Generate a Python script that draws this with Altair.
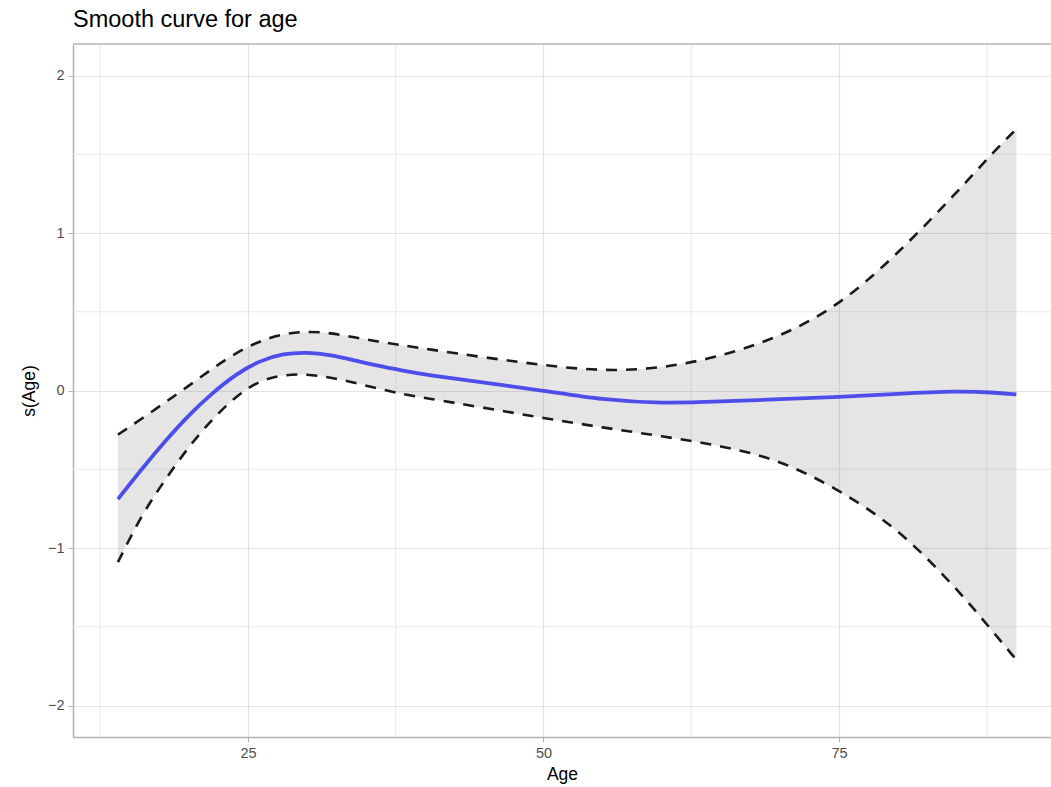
import altair as alt
import pandas as pd

# Values
age = [14, 16, 18, 20, 22, 24, 26, 28, 30, 32, 34, 36, 38, 40, 45, 50, 55, 60, 65, 70, 75, 80, 85, 88, 90]
fit = [-0.69, -0.50, -0.32, -0.155, -0.015, 0.105, 0.19, 0.235, 0.243, 0.226, 0.192, 0.157, 0.128, 0.10,
       0.05, 0.00, -0.06, -0.083, -0.07, -0.055, -0.042, -0.02, -0.003, -0.012, -0.025]
upper = [-0.28, -0.18, -0.075, 0.03, 0.14, 0.24, 0.315, 0.36, 0.376, 0.366, 0.337, 0.311, 0.288, 0.265,
         0.21, 0.16, 0.122, 0.14, 0.215, 0.34, 0.537, 0.87, 1.26, 1.51, 1.66]
lower = [-1.09, -0.79, -0.565, -0.355, -0.18, -0.035, 0.065, 0.10, 0.105, 0.082, 0.05, 0.012, -0.022, -0.048,
         -0.11, -0.175, -0.235, -0.29, -0.35, -0.44, -0.63, -0.875, -1.26, -1.53, -1.71]

x_major = [25, 50, 75]
x_minor = [12.5, 37.5, 62.5, 87.5]
y_major = [-2, -1, 0, 1, 2]
y_minor = [-1.5, -0.5, 0.5, 1.5]

df = pd.DataFrame({"age": age, "fit": fit, "upper": upper, "lower": lower})

W, H = 978, 693
xs = alt.Scale(domain=[10.2, 92.93], nice=False, zero=False)
ys = alt.Scale(domain=[-2.2, 2.2], nice=False, zero=False)

grid_col = "#e3e3e3"

xaxis = alt.Axis(values=x_major, format="d", title="Age", grid=True, gridColor=grid_col, gridWidth=1.2,
                 domainColor="#b3b3b3", domainWidth=1.5, tickColor="#b3b3b3", tickSize=5,
                 labelColor="#4d4d4d", labelFontSize=14.5, labelPadding=4,
                 titleFontSize=17.5, titleFontWeight="normal", titleColor="#000000", titlePadding=6)
yaxis = alt.Axis(values=y_major, format="d", title="s(Age)", grid=True, gridColor=grid_col, gridWidth=1.2,
                 domainColor="#b3b3b3", domainWidth=1.5, tickColor="#b3b3b3", tickSize=5,
                 labelColor="#4d4d4d", labelFontSize=14.5, labelPadding=4,
                 titleFontSize=17.5, titleFontWeight="normal", titleColor="#000000", titlePadding=9)

minor_x = alt.Chart(pd.DataFrame({"v": x_minor})).mark_rule(color=grid_col, strokeWidth=0.8).encode(
    x=alt.X("v:Q", scale=xs, axis=xaxis))
minor_y = alt.Chart(pd.DataFrame({"v": y_minor})).mark_rule(color=grid_col, strokeWidth=0.8).encode(
    y=alt.Y("v:Q", scale=ys, axis=yaxis))

interp = "basis"
base = alt.Chart(df)
ribbon = base.mark_area(color="#7f7f7f", opacity=0.2, interpolate=interp).encode(
    x=alt.X("age:Q", scale=xs), y=alt.Y("lower:Q", scale=ys), y2="upper:Q")
up_line = base.mark_line(color="#1a1a1a", strokeWidth=2.6, strokeDash=[11, 9], interpolate=interp).encode(
    x=alt.X("age:Q", scale=xs), y=alt.Y("upper:Q", scale=ys))
lo_line = base.mark_line(color="#1a1a1a", strokeWidth=2.6, strokeDash=[11, 9], interpolate=interp).encode(
    x=alt.X("age:Q", scale=xs), y=alt.Y("lower:Q", scale=ys))
fit_line = base.mark_line(color="#4d4dea", strokeWidth=3.8, interpolate=interp).encode(
    x=alt.X("age:Q", scale=xs), y=alt.Y("fit:Q", scale=ys))

top_border = alt.Chart(pd.DataFrame({"k": [0]})).mark_rule(color="#b3b3b3", strokeWidth=1.5).encode(
    x=alt.value(0), x2=alt.value(W), y=alt.value(0))

chart = alt.layer(minor_x, minor_y, ribbon, up_line, lo_line, fit_line, top_border).properties(
    width=W, height=H,
    title=alt.TitleParams("Smooth curve for age", anchor="start", frame="group", fontSize=23.5,
                          fontWeight="normal", color="#000000", offset=12),
    autosize=alt.AutoSizeParams(type="none"),
    padding={"left": 73, "top": 44, "right": 0, "bottom": 50},
).configure(font="Liberation Sans").configure_view(stroke=None)

chart.save("out.html", embed_options={"renderer": "svg", "actions": False})
